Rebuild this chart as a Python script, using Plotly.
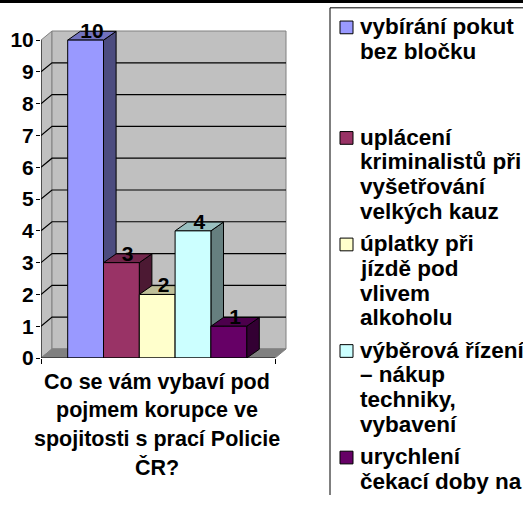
import plotly.graph_objects as go

# ---- data -------------------------------------------------------------
values = [10, 3, 2, 4, 1]
legend_lines = [
    ["vybírání pokut", "bez bločku"],
    ["uplácení", "kriminalistů při", "vyšetřování", "velkých kauz"],
    ["úplatky při", "jízdě pod", "vlivem", "alkoholu"],
    ["výběrová řízení", "– nákup", "techniky,", "vybavení"],
    ["urychlení", "čekací doby na"],
]
front_colors = ["#9999FF", "#993366", "#FFFFCC", "#CCFFFF", "#660066"]
y_ticks = list(range(0, 11))
axis_title_lines = ["Co se vám vybaví pod", "pojmem korupce ve",
                    "spojitosti s prací Policie", "ČR?"]

# ---- layout constants ---------------------------------------------------
W, H = 523, 506
FONT = "Liberation Sans"
PX_X = 35.8          # pixels per bar slot
PX_Y = 32.5          # pixels per value unit
AX_LEFT_PX = 41      # front-left corner of the plot
AX_BOTTOM_PX = 366   # value 0 on the front face
X_SPAN_PX = 249
Y_SPAN_PX = 338

xl = -26.7 / PX_X                    # front-left edge (first bar starts at 0)
xfr = xl + 234 / PX_X                # front-right edge
wdx, wdy = 11 / PX_X, 9.3 / PX_Y     # wall depth
bdx, bdy = 12.6 / PX_X, 9.0 / PX_Y   # bar depth
y_top = max(y_ticks)


def bold(s):
    return "<b>" + s + "</b>"


def shade(hex_color, f):
    h = hex_color.lstrip("#")
    r, g, b = (int(h[k:k + 2], 16) for k in (0, 2, 4))
    return "rgb({},{},{})".format(int(r * f), int(g * f), int(b * f))


def poly(pts, fill, line_color="black", width=1):
    xs = [p[0] for p in pts] + [pts[0][0]]
    ys = [p[1] for p in pts] + [pts[0][1]]
    return go.Scatter(x=xs, y=ys, mode="lines", fill="toself", fillcolor=fill,
                      line=dict(color=line_color, width=width),
                      hoverinfo="skip", showlegend=False)


fig = go.Figure()

# walls and floor
fig.add_trace(poly([(xl, 0), (xl, y_top), (xl + wdx, y_top + wdy), (xl + wdx, wdy)],
                   "#C0C0C0", "#808080"))
fig.add_trace(poly([(xl + wdx, wdy), (xl + wdx, y_top + wdy),
                    (xfr + wdx, y_top + wdy), (xfr + wdx, wdy)], "#C0C0C0", "#808080"))
fig.add_trace(poly([(xl, 0), (xfr, 0), (xfr + wdx, wdy), (xl + wdx, wdy)],
                   "#808080", "#808080"))

# gridlines on the back and side walls
gx, gy = [], []
for v in y_ticks[1:-1]:
    gx += [xl, xl + wdx, xfr + wdx, None]
    gy += [v, v + wdy, v + wdy, None]
fig.add_trace(go.Scatter(x=gx, y=gy, mode="lines", line=dict(color="black", width=1.2),
                         hoverinfo="skip", showlegend=False))

# 3-D columns: side, top, front
for i, (v, c) in enumerate(zip(values, front_colors)):
    x0, x1 = i, i + 1
    fig.add_trace(poly([(x1, 0), (x1 + bdx, bdy), (x1 + bdx, v + bdy), (x1, v)], shade(c, 0.5)))
    fig.add_trace(poly([(x0, v), (x1, v), (x1 + bdx, v + bdy), (x0 + bdx, v + bdy)], shade(c, 0.75)))
    fig.add_trace(poly([(x0, 0), (x1, 0), (x1, v), (x0, v)], c))

# value labels
fig.add_trace(go.Scatter(
    x=[i + 0.5 + bdx / 2 for i in range(len(values))],
    y=[v + bdy / 2 + 3 / PX_Y for v in values],
    text=[bold(str(v)) for v in values], mode="text", textposition="middle center",
    textfont=dict(family=FONT, size=21, color="black"),
    cliponaxis=False, hoverinfo="skip", showlegend=False))

# front axis lines
fig.add_trace(go.Scatter(x=[xl, xl, None, xl, xfr], y=[y_top, 0, None, 0, 0], mode="lines",
                         line=dict(color="black", width=1), hoverinfo="skip",
                         showlegend=False, cliponaxis=False))

fig.update_layout(
    width=W, height=H, margin=dict(l=0, r=0, t=0, b=0),
    paper_bgcolor="white", plot_bgcolor="rgba(0,0,0,0)", showlegend=False,
    xaxis=dict(domain=[AX_LEFT_PX / W, (AX_LEFT_PX + X_SPAN_PX) / W],
               range=[xl, xl + X_SPAN_PX / PX_X], showgrid=False, zeroline=False,
               showline=False, tickvals=[xl, xfr], ticks="outside", ticklen=5,
               tickcolor="black", showticklabels=False, fixedrange=True),
    yaxis=dict(domain=[(H - AX_BOTTOM_PX) / H, (H - AX_BOTTOM_PX + Y_SPAN_PX) / H],
               range=[0, Y_SPAN_PX / PX_Y], showgrid=False, zeroline=False,
               showline=False, tickvals=y_ticks, ticktext=[bold(str(t)) for t in y_ticks],
               ticks="outside", ticklen=4, tickcolor="black", ticklabelstandoff=-2,
               tickfont=dict(family=FONT, size=21, color="black"),
               fixedrange=True),
)

shapes = [
    dict(type="rect", xref="paper", yref="paper", x0=0, x1=1, y0=1 - 3 / H, y1=1,
         fillcolor="black", line=dict(width=0)),
    dict(type="line", xref="paper", yref="paper", x0=330 / W, x1=330 / W,
         y0=0, y1=1 - 8 / H, line=dict(color="black", width=1)),
    dict(type="line", xref="paper", yref="paper", x0=330 / W, x1=1,
         y0=1 - 8 / H, y1=1 - 8 / H, line=dict(color="black", width=1)),
]
annotations = []


def text_line(txt, x_px, baseline_px, size, xanchor):
    annotations.append(dict(
        text=bold(txt), xref="paper", yref="paper", x=x_px / W,
        y=1 - (baseline_px - 0.3465 * size) / H, xanchor=xanchor, yanchor="middle",
        showarrow=False, font=dict(family=FONT, size=size, color="black")))


# axis title under the columns
for k, line in enumerate(axis_title_lines):
    text_line(line, 157, 398 + 29 * k, 21.5, "center")

# legend entries
LINE = 25.3
GAP = 33
first_baselines = [35, 148]
for lines in legend_lines[1:-1]:
    first_baselines.append(first_baselines[-1] + LINE * (len(lines) - 1) + GAP)
for lines, base, c in zip(legend_lines, first_baselines, front_colors):
    cy = base - 7
    shapes.append(dict(type="rect", xref="paper", yref="paper",
                       x0=340 / W, x1=353 / W, y0=1 - (cy + 6.5) / H, y1=1 - (cy - 6.5) / H,
                       fillcolor=c, line=dict(color="black", width=1)))
    for k, line in enumerate(lines):
        text_line(line, 358, base + LINE * k, 22.5, "left")

fig.update_layout(shapes=shapes, annotations=annotations)
fig.write_html("out.html")
